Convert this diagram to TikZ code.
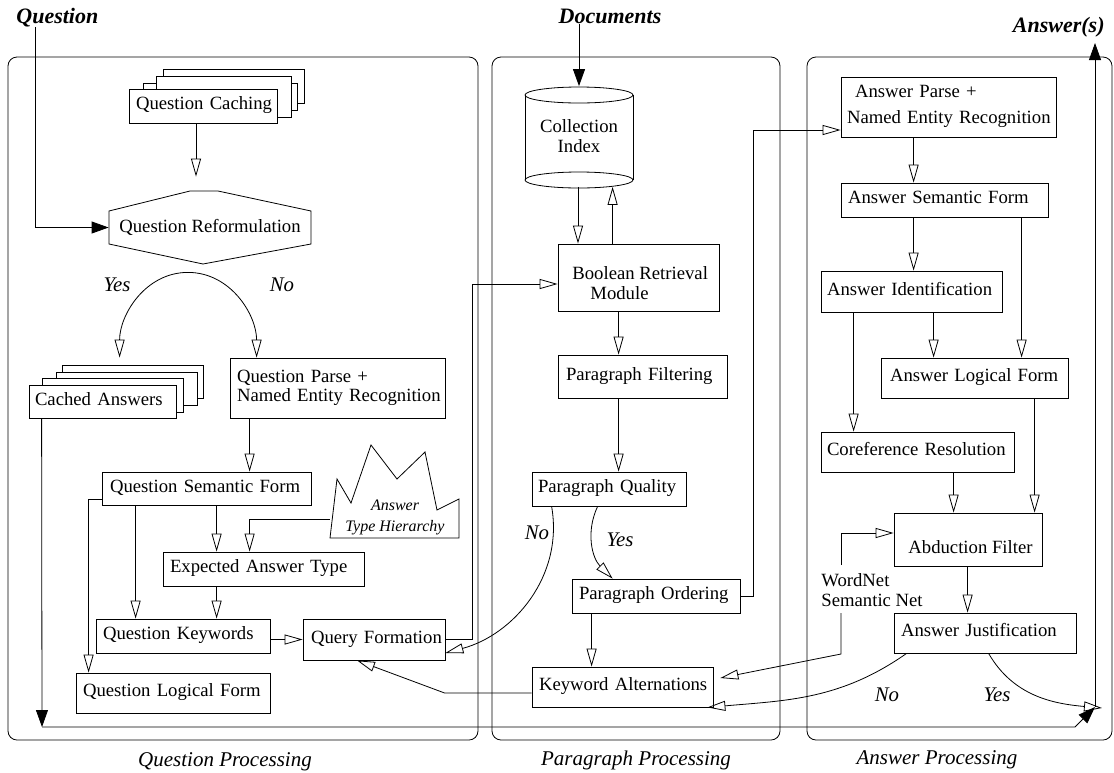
\documentclass[tikz,border=0pt]{standalone}
\usepackage{fontspec}
\setmainfont{Liberation Serif}
\usetikzlibrary{arrows.meta,calc}
\newcommand\mybox[7]{%
 \pgfmathsetmacro\mybw{#4-#2}\pgfmathsetmacro\mybh{#5-#3}\pgfmathsetmacro\mytw{#4-#2-2*#6}%
 \node[bx, minimum width=\mybw pt, minimum height=\mybh pt, text width=\mytw pt] (#1) at ({(#2+#4)/2},{(#3+#5)/2}) {\begin{tabular}{@{}l@{}}#7\end{tabular}};}
\newcommand\vdn[3]{\coordinate (vtmp) at ([xshift=#2pt]#1.south west); \draw[oa] (vtmp) -- (vtmp |- #3.north);}
\begin{document}
\begin{tikzpicture}[x=1pt,y=-1pt, line width=0.8pt,
 bx/.style={draw, fill=white, rectangle, inner sep=0pt, align=left, font=\fontsize{18.7}{19}\selectfont},
 txt/.style={inner sep=0pt, font=\fontsize{18.7}{19}\selectfont},
 oa/.style={-{Triangle[open,length=18pt,width=10pt]}},
 fa/.style={-{Triangle[length=17pt,width=12pt]}},
 panel/.style={draw, rounded corners=9pt},
 lbl/.style={font=\itshape\fontsize{20.8}{22}\selectfont, inner sep=0pt},
 sect/.style={font=\itshape\fontsize{21}{22}\selectfont, inner sep=0pt},
 ttl/.style={font=\bfseries\itshape\fontsize{22}{24}\selectfont, inner sep=0pt},
 sh/.style={draw, fill=white}]
\useasboundingbox (0,0) rectangle (1114,772);

% panels
\draw[panel] (8,57) rectangle (478,740);
\draw[panel] (492,57) rectangle (780,740);
\draw[panel] (807,57) rectangle (1112,740);

% section labels
\node[sect] (sq) at (225,762) {Question Processing};
\node[sect] (sp) at (636,760) {Paragraph Processing};
\node[sect] (sa) at (937,760) {Answer Processing};

% titles
\node[ttl, anchor=base west] (qt) at (16,23) {Question};
\node[ttl, anchor=base] (dt) at (610,23) {Documents};
\node[ttl, anchor=base east] (at) at (1105,32) {Answer(s)};

% question caching stack
\draw[sh] (163,69) rectangle (304,103);
\draw[sh] (143,83) rectangle (297,110);
\draw[sh] (156,76) rectangle (291,117);
\mybox{qc}{129}{89}{277}{123}{7}{Question Caching}

% cached answers stack
\draw[sh] (62,365) rectangle (203,398);
\draw[sh] (56,372) rectangle (197,405);
\draw[sh] (42,378) rectangle (183,412);
\mybox{ca}{29}{385}{176}{418}{6}{Cached Answers}

% question reformulation
\draw[fill=white] (109,211) -- (190,191) -- (218,191) -- (311,211) -- (311,244) -- (203,264) -- (109,244) -- cycle;
\node[txt, minimum width=202pt, minimum height=73pt] (qr) at (210,227.5) {Question Reformulation};

\mybox{qp}{230}{358}{445}{418}{7}{Question Parse +\\Named Entity Recognition}
\mybox{qsf}{102}{472}{311}{505}{8}{Question Semantic Form}
\mybox{eat}{163}{552}{364}{586}{7}{Expected Answer Type}
\mybox{qk}{96}{619}{270}{653}{7}{Question Keywords}
\mybox{qf}{303}{619}{445}{660}{8}{Query Formation}
\mybox{qlf}{76}{673}{270}{713}{7}{Question Logical Form}

% answer type hierarchy
\draw[fill=white] (330,538) -- (337,479) -- (351,503) -- (371,445) -- (397,479) -- (425,452) -- (437,510) -- (459,499) -- (459,538) -- cycle;
\node[minimum width=129pt, minimum height=93pt, inner sep=0pt] (ath) at (394.5,491.5) {};
\node[inner sep=0pt, align=center, font=\itshape\fontsize{16}{21}\selectfont] (atht) at (395,517) {Answer\\Type Hierarchy};

% paragraph processing
\draw (525,95) -- (525,180) (633,95) -- (633,180);
\draw (579,95) ellipse [x radius=54pt, y radius=8pt];
\draw (579,180) ellipse [x radius=54pt, y radius=8pt];
\node[txt, align=center, minimum width=108pt, minimum height=101pt, font=\fontsize{18.7}{20}\selectfont] (ci) at (579,136) {Collection\\Index};

\mybox{br}{558}{244}{719}{311}{14}{}
\node[txt, anchor=west, align=left, font=\fontsize{18.7}{20}\selectfont] (brt) at (572,283) {Boolean Retrieval\\\hspace*{18pt}Module};
\mybox{pf}{558}{355}{727}{398}{8}{Paragraph Filtering}
\mybox{pq}{532}{472}{686}{506}{6}{Paragraph Quality}
\mybox{po}{572}{579}{740}{613}{7}{Paragraph Ordering}
\mybox{ka}{532}{667}{713}{707}{7}{Keyword Alternations}

% answer processing
\mybox{ap}{841}{77}{1056}{137}{6}{\hspace*{8pt}Answer Parse +\\[7pt]Named Entity Recognition}
\mybox{asf}{841}{183}{1048}{217}{7}{Answer Semantic Form}
\mybox{ai}{821}{271}{1002}{312}{6}{Answer Identification}
\mybox{alf}{881}{358}{1068}{398}{9}{Answer Logical Form}
\mybox{cr}{821}{432}{1014}{472}{6}{Coreference Resolution}
\mybox{af}{894}{513}{1042}{566}{14}{}
\node[txt, anchor=west] (aft) at (908,547) {Abduction Filter};
\mybox{aj}{894}{613}{1076}{653}{7}{Answer Justification}
\node[txt, anchor=west, align=left, font=\fontsize{18.7}{20.7}\selectfont] (wn) at (821,590) {WordNet\\Semantic Net};

% ---- connectors: question side
\coordinate (qs) at ([xshift=19pt]qt.south west);
\draw[fa] (qs) |- (qr.west);
\coordinate (qcs) at ([xshift=-7pt]qc.south);
\draw[oa, shorten >=14pt] (qcs) -- (qcs |- qr.north);
\coordinate (ynt) at ([xshift=-22pt,yshift=-8pt]qr.south);
\draw[oa] (ynt) to[out=180,in=90] ([xshift=91pt,yshift=27pt]ca.north west);
\draw[oa] (ynt) to[out=0,in=90] ([xshift=27pt]qp.north west);
\node[lbl] (ly1) at (117,285) {Yes};
\node[lbl] (ln1) at (282,285) {No};
\vdn{qp}{20}{qsf}
\vdn{qsf}{115}{eat}
\vdn{qsf}{34}{qk}
\vdn{eat}{54}{qk}
\coordinate (qsl) at ([yshift=-10.5pt]qsf.west);
\coordinate (qlfn) at ([xshift=13pt]qlf.north west);
\draw[oa] (qsl) -| (qlfn);
\coordinate (athl) at ([yshift=-27.5pt]ath.west);
\coordinate (eatn) at ([xshift=87pt]eat.north west);
\draw[oa] (athl) -| (eatn);
\draw[oa] (qk.east |- qf.west) -- (qf.west);
\coordinate (brw) at ([yshift=-6.5pt]br.west);
\draw[oa] (qf.east) -- ++(27,0) |- (brw);

% cached answers -> answers
\coordinate (cdn) at (42,727);
\coordinate (ab) at (1095,707);
\coordinate (atip) at (1095,43);
\draw[fa] ([xshift=13pt]ca.south west) -- (cdn);
\draw[fa] (cdn) -- (1075,727) -- (ab);
\draw[fa] (ab) -- (atip);

% ---- paragraph side
\draw[fa] (dt.south -| ci.north) -- ([yshift=-1pt]ci.north);
\coordinate (cib) at ([xshift=-1pt]ci.south);
\draw[oa] (cib) -- (cib |- br.north);
\coordinate (brtop) at ([xshift=55pt]br.north west);
\draw[oa] (brtop) -- (brtop |- ci.south);
\vdn{br}{61}{pf}
\vdn{pf}{61}{pq}
\vdn{po}{20}{ka}
\draw[oa] ([xshift=20pt]pq.south west) to[out=-80,in=15] ([yshift=-13.5pt]qf.east);
\draw[oa] ([xshift=66pt]pq.south west) to[out=-115,in=135] ([xshift=41pt]po.north west);
\node[lbl] (ln2) at (537,533) {No};
\node[lbl] (ly2) at (620,540) {Yes};
\draw[oa] ([yshift=-6pt]ka.west) -- ++(-87,0) -- ([xshift=-17pt]qf.south);
\coordinate (apw) at ([yshift=-23pt]ap.west);
\draw[oa] (po.east) -- ++(13,0) |- (apw);

% ---- answer side
\vdn{ap}{73}{asf}
\vdn{asf}{73}{ai}
\vdn{asf}{181}{alf}
\vdn{ai}{113}{alf}
\vdn{ai}{33}{cr}
\vdn{cr}{133}{af}
\vdn{alf}{154}{af}
\vdn{af}{74}{aj}
\coordinate (wnt) at (841,565);
\coordinate (wnb) at (841,613);
\draw[oa] (wnt) |- ([yshift=6.5pt]af.west);
\draw[oa] (wnb) -- (841,654) -- ([xshift=7pt,yshift=9pt]ka.east);
\draw[oa] ([xshift=13pt]aj.south west) to[out=-145,in=5] ([xshift=-6pt]ka.south east);
\coordinate (yesend) at (1102,708);
\draw[oa] ([xshift=95pt]aj.south west) to[out=-60,in=175] (yesend);
\node[lbl] (ln3) at (887,695) {No};
\node[lbl] (ly3) at (997,695) {Yes};
\end{tikzpicture}
\end{document}
